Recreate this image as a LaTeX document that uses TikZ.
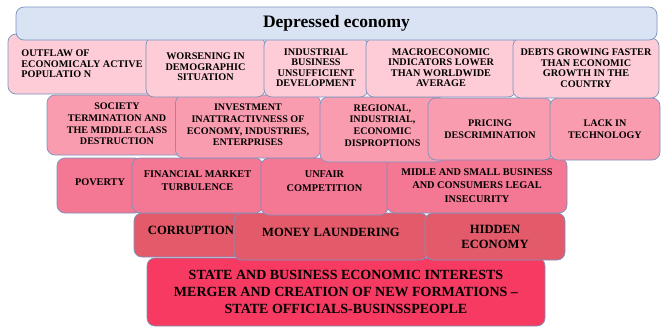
\documentclass[tikz,border=0pt]{standalone}
\usepackage{fontspec}
\setmainfont{Liberation Serif}
\definecolor{edgeblue}{HTML}{7A93BF}
\definecolor{headfill}{HTML}{DAE3F3}
\definecolor{rowone}{HTML}{FDCCD6}
\definecolor{rowtwo}{HTML}{F99CAF}
\definecolor{rowthree}{HTML}{F47793}
\definecolor{rowfour}{HTML}{E35A6A}
\definecolor{rowfive}{HTML}{F63A62}
\begin{document}
\begin{tikzpicture}[x=1pt,y=-1pt,
    cell/.style={draw=edgeblue,line width=0.7pt,rounded corners=8pt,inner sep=1pt,align=center},
    lift/.style={text depth=#1},
    head/.style={cell,fill=headfill,font={\bfseries\fontsize{17.5}{20}\selectfont}},
    lvlone/.style={cell,fill=rowone,font={\bfseries\fontsize{10.2}{10.5}\selectfont}},
    lvltwo/.style={cell,fill=rowtwo,font={\bfseries\fontsize{10.1}{11.7}\selectfont}},
    lvlthree/.style={cell,fill=rowthree,font={\bfseries\fontsize{10.3}{13.5}\selectfont}},
    lvlfour/.style={cell,fill=rowfour,font={\bfseries\fontsize{12.6}{15}\selectfont}},
    base/.style={cell,fill=rowfive,font={\bfseries\fontsize{14}{17}\selectfont}}]
\useasboundingbox (0,0) rectangle (662,327);
% lowest level first, so the upper rows lie on top
\node[base,minimum width=398pt,minimum height=68pt] (merger) at (346,292) {STATE AND BUSINESS ECONOMIC INTERESTS\\MERGER AND CREATION OF NEW FORMATIONS --\\STATE OFFICIALS-BUSINSSPEOPLE};
\node[lvlfour,lift=9pt,minimum width=114pt,minimum height=44pt] (corruption) at (191,235) {CORRUPTION};
\node[lvlfour,lift=9pt,minimum width=194pt,minimum height=47pt] (laundering) at (331,236.5) {MONEY LAUNDERING};
\node[lvlfour,minimum width=140pt,minimum height=47pt] (hidden) at (495,236.5) {HIDDEN\\ECONOMY};
\node[lvlthree,lift=7pt,minimum width=86pt,minimum height=55pt] (poverty) at (100,185.5) {POVERTY};
\node[lvlthree,lift=10pt,minimum width=131pt,minimum height=55pt] (turbulence) at (197.5,185.5) {FINANCIAL MARKET\\TURBULENCE};
\node[lvlthree,lift=11pt,minimum width=127pt,minimum height=57pt] (unfair) at (324.5,186.5) {UNFAIR\\COMPETITION};
\node[lvlthree,minimum width=180pt,minimum height=55pt] (insecurity) at (477,185.5) {MIDLE AND SMALL BUSINESS\\AND CONSUMERS LEGAL\\INSECURITY};
\node[lvltwo,lift=2pt,minimum width=140pt,minimum height=60pt] (society) at (117,125) {SOCIETY\\TERMINATION AND\\THE MIDDLE CLASS\\DESTRUCTION};
\node[lvltwo,lift=3pt,minimum width=145pt,minimum height=63pt] (investment) at (248,126.5) {INVESTMENT\\INATTRACTIVNESS OF\\ECONOMY, INDUSTRIES,\\ENTERPRISES};
\node[lvltwo,lift=8pt,minimum width=125pt,minimum height=65pt] (regional) at (382.5,129.5) {REGIONAL,\\INDUSTRIAL,\\ECONOMIC\\DISPROPTIONS};
\node[lvltwo,minimum width=124pt,minimum height=62pt] (pricing) at (490,129) {PRICING\\DESCRIMINATION};
\node[lvltwo,minimum width=110pt,minimum height=62pt] (technology) at (605,129) {LACK IN\\TECHNOLOGY};
\node[lvlone,minimum width=148pt,minimum height=60pt,align=left] (outflaw) at (82,64) {OUTFLAW OF\\ECONOMICALY ACTIVE\\POPULATIO N};
\node[lvlone,minimum width=119pt,minimum height=60pt] (demography) at (205.5,67) {WORSENING IN\\DEMOGRAPHIC\\SITUATION};
\node[lvlone,minimum width=104pt,minimum height=59pt] (industry) at (316,67.5) {INDUSTRIAL\\BUSINESS\\UNSUFFICIENT\\DEVELOPMENT};
\node[lvlone,minimum width=150pt,minimum height=59pt] (indicators) at (441,67.5) {MACROECONOMIC\\INDICATORS LOWER\\THAN WORLDWIDE\\AVERAGE};
\node[lvlone,minimum width=146pt,minimum height=60pt] (debts) at (586,68) {DEBTS GROWING FASTER\\THAN ECONOMIC\\GROWTH IN THE\\COUNTRY};
\node[head,minimum width=641pt,minimum height=33pt] (depressed) at (336.5,23.5) {Depressed economy};
\end{tikzpicture}
\end{document}
